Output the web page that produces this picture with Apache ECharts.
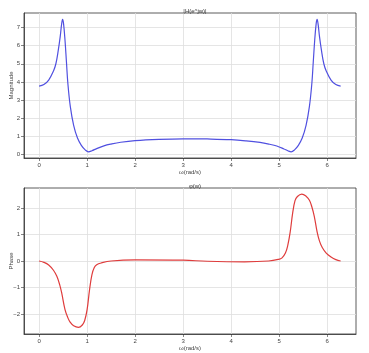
<!DOCTYPE html>
<html>
<head>
<meta charset="utf-8">
<script src="https://cdn.jsdelivr.net/npm/echarts@6/dist/echarts.min.js"></script>
<style>
  html, body { margin: 0; padding: 0; background: #fff; }
  #chart { width: 369px; height: 353px; }
</style>
</head>
<body>
<div id="chart"></div>
<script>
// frequency samples (rad/s) and magnitude
const magW = [0, 0.1, 0.2, 0.3, 0.35, 0.4, 0.44, 0.47, 0.49, 0.51, 0.54, 0.57, 0.6, 0.65, 0.72, 0.8, 0.88, 0.96, 1.03,
  1.1, 1.2, 1.35, 1.5, 1.7, 2.0, 2.5, 3.0, 3.14, 3.5, 4.0, 4.3, 4.6, 4.8, 4.95, 5.1, 5.18, 5.25,
  5.32, 5.4, 5.48, 5.56, 5.63, 5.68, 5.71, 5.74, 5.77, 5.79, 5.81, 5.84, 5.88, 5.93, 5.98, 6.08, 6.18, 6.28];
const magV = [3.77, 3.85, 4.1, 4.6, 5.0, 5.75, 6.5, 7.2, 7.45, 7.2, 6.3, 5.1, 3.9, 2.65, 1.6, 0.9, 0.5, 0.25, 0.14,
  0.2, 0.32, 0.47, 0.57, 0.67, 0.76, 0.83, 0.86, 0.86, 0.85, 0.81, 0.75, 0.66, 0.56, 0.46, 0.3, 0.2, 0.14,
  0.25, 0.5, 0.9, 1.6, 2.65, 3.9, 5.1, 6.3, 7.2, 7.45, 7.2, 6.5, 5.75, 5.0, 4.6, 4.1, 3.85, 3.77];

// phase
const phW = [0, 0.1, 0.2, 0.3, 0.37, 0.43, 0.47, 0.54, 0.6, 0.65, 0.72, 0.82, 0.9, 0.95, 1.0, 1.05,
  1.1, 1.15, 1.2, 1.3, 1.5, 2.0, 3.0, 3.5, 4.28, 4.78, 4.98, 5.06, 5.13, 5.18, 5.23, 5.28, 5.33, 5.38,
  5.47, 5.56, 5.63, 5.68, 5.73, 5.79, 5.84, 5.9, 5.98, 6.08, 6.18, 6.28];
const phV = [0, -0.05, -0.15, -0.35, -0.58, -0.9, -1.2, -1.84, -2.15, -2.32, -2.45, -2.51, -2.42, -2.25, -1.84, -1.1,
  -0.52, -0.25, -0.14, -0.07, 0.0, 0.04, 0.03, -0.01, -0.03, 0.0, 0.06, 0.12, 0.3, 0.6, 1.1, 1.8, 2.28, 2.44,
  2.53, 2.45, 2.3, 2.05, 1.7, 1.1, 0.75, 0.5, 0.3, 0.15, 0.05, 0];

const xTicks = [0, 1, 2, 3, 4, 5, 6];
const magTicks = [0, 1, 2, 3, 4, 5, 6, 7];
const phTicks = [-2, -1, 0, 1, 2];

const zip = (a, b) => a.map((v, i) => [v, b[i]]);
const txt = '#444';
const fmt = v => String(v).replace('-', '\u2212');

function xAxis(gridIndex) {
  return {
    type: 'value', gridIndex, min: -0.314, max: 6.6,
    name: 'ω(rad/s)', nameLocation: 'middle', nameGap: 11, nameMoveOverlap: false,
    nameTextStyle: { fontSize: 6, color: txt },
    axisLine: { show: true, onZero: false, lineStyle: { color: '#333', width: 0.8 } },
    axisTick: { show: true, length: 3, customValues: xTicks, lineStyle: { color: '#333', width: 0.6 } },
    axisLabel: { fontSize: 6, color: txt, margin: 4, customValues: xTicks, formatter: fmt },
    splitLine: { show: true, lineStyle: { color: '#dedede', width: 0.8 } }
  };
}
function yAxis(gridIndex, min, max, ticks, name) {
  return {
    type: 'value', gridIndex, min, max,
    name, nameLocation: 'middle', nameGap: 10, nameMoveOverlap: false,
    nameTextStyle: { fontSize: 6, color: txt },
    axisLine: { show: true, onZero: false, lineStyle: { color: '#333', width: 0.8 } },
    axisTick: { show: true, length: 3, customValues: ticks, lineStyle: { color: '#333', width: 0.6 } },
    axisLabel: { fontSize: 6, color: txt, margin: 4, customValues: ticks, formatter: fmt },
    splitLine: { show: true, lineStyle: { color: '#dedede', width: 0.8 } }
  };
}

const chart = echarts.init(document.getElementById('chart'));
chart.setOption({
  animation: false,
  backgroundColor: '#fff',
  title: [
    { text: '|H(e^jw)|', left: 190, top: 3, textAlign: 'center',
      textStyle: { fontSize: 6, fontWeight: 'normal', color: '#333' } },
    { text: 'φ(w)', left: 190, top: 178, textAlign: 'center',
      textStyle: { fontSize: 6, fontWeight: 'normal', color: '#333' } }
  ],
  grid: [
    { left: 24, right: 13, top: 13, height: 145, show: true, borderColor: '#333', borderWidth: 0.8,
      containLabel: false, outerBoundsMode: 'none' },
    { left: 24, right: 13, top: 188, height: 146, show: true, borderColor: '#333', borderWidth: 0.8,
      containLabel: false, outerBoundsMode: 'none' }
  ],
  xAxis: [xAxis(0), xAxis(1)],
  yAxis: [
    yAxis(0, -0.2, 7.8, magTicks, 'Magnitude'),
    yAxis(1, -2.76, 2.76, phTicks, 'Phase')
  ],
  series: [
    { type: 'line', xAxisIndex: 0, yAxisIndex: 0, data: zip(magW, magV),
      showSymbol: false, smooth: 0.4,
      lineStyle: { color: '#5050e0', width: 1.2 } },
    { type: 'line', xAxisIndex: 1, yAxisIndex: 1, data: zip(phW, phV),
      showSymbol: false, smooth: 0.4,
      lineStyle: { color: '#df3c3c', width: 1.2 } }
  ]
});
</script>
</body>
</html>
